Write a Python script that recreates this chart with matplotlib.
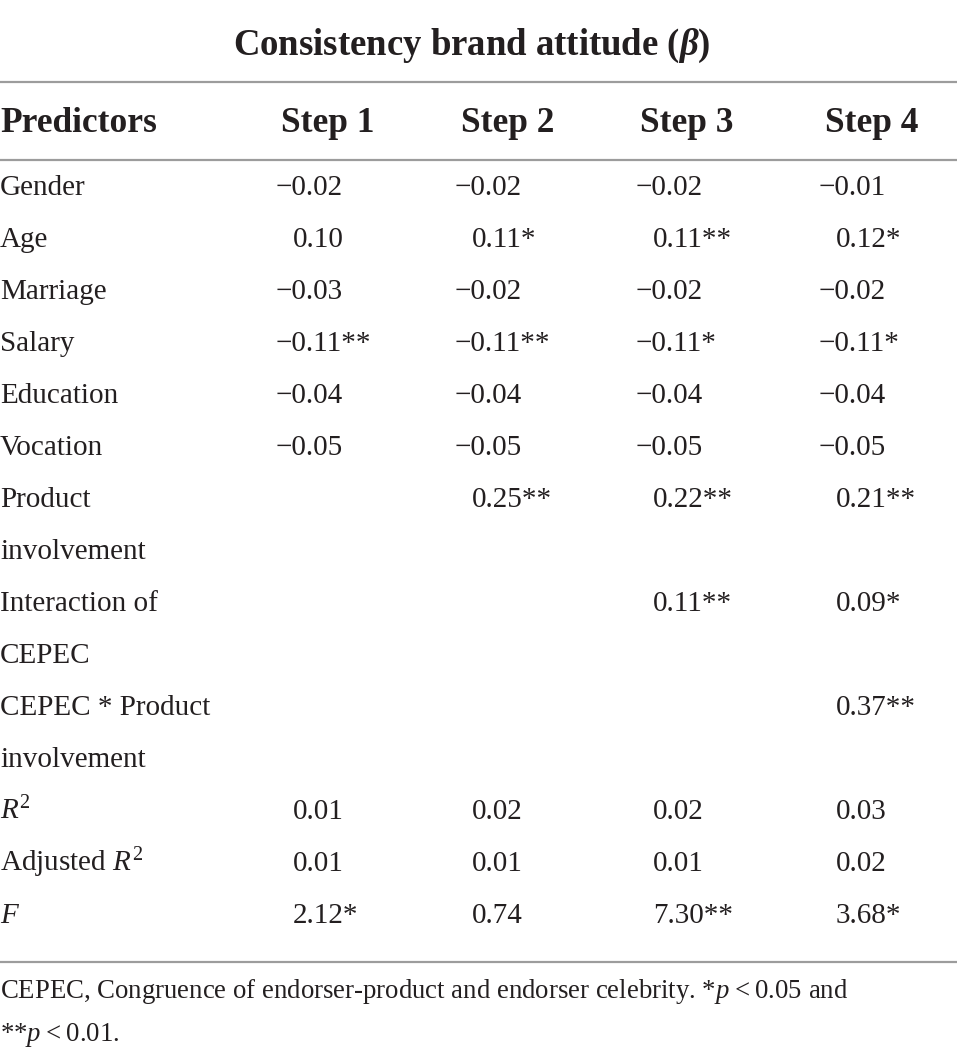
import matplotlib
matplotlib.use("Agg")
import matplotlib.pyplot as plt

plt.rcParams['font.family'] = ['Liberation Serif', 'DejaVu Serif']
plt.rcParams['mathtext.fontset'] = 'custom'
plt.rcParams['mathtext.rm'] = 'Liberation Serif'
plt.rcParams['mathtext.it'] = 'Liberation Serif:italic'
plt.rcParams['mathtext.bf'] = 'Liberation Serif:bold'
plt.rcParams['mathtext.bfit'] = 'Liberation Serif:bold:italic'

title = r"Consistency brand attitude ($\mathbfit{\beta}$)"
headers = ["Predictors", "Step 1", "Step 2", "Step 3", "Step 4"]

# one entry per printed line; two-line labels carry their values on the first line
labels = ["Gender", "Age", "Marriage", "Salary", "Education", "Vocation",
          "Product", "involvement", "Interaction of", "CEPEC",
          "CEPEC * Product", "involvement",
          r"$\mathit{R}^2$", r"Adjusted $\mathit{R}^2$", r"$\mathit{F}$"]
step1 = ["−0.02", "0.10", "−0.03", "−0.11**", "−0.04", "−0.05",
         "", "", "", "", "", "", "0.01", "0.01", "2.12*"]
step2 = ["−0.02", "0.11*", "−0.02", "−0.11**", "−0.04", "−0.05",
         "0.25**", "", "", "", "", "", "0.02", "0.01", "0.74"]
step3 = ["−0.02", "0.11**", "−0.02", "−0.11*", "−0.04", "−0.05",
         "0.22**", "", "0.11**", "", "", "", "0.02", "0.01", "7.30**"]
step4 = ["−0.01", "0.12*", "−0.02", "−0.11*", "−0.04", "−0.05",
         "0.21**", "", "0.09*", "", "0.37**", "", "0.03", "0.02", "3.68*"]
steps = [step1, step2, step3, step4]

note1 = "CEPEC, Congruence of endorser-product and endorser celebrity. *$\\mathit{p}$\u2009<\u20090.05 and"
note2 = "**$\\mathit{p}$\u2009<\u20090.01."

W, H = 957, 1054
fig = plt.figure(figsize=(W / 100, H / 100), dpi=100)
ax = fig.add_axes([0, 0, 1, 1])
ax.set_xlim(0, W)
ax.set_ylim(H, 0)
ax.axis('off')

body = 21
bold = 25.5
rule = '#9c9c9c'
ink = '#231f20'

ax.text(472, 55, title, ha='center', va='baseline', fontsize=26.5, fontweight='bold', color=ink)
for yy in [82, 160, 962]:
    ax.plot([0, W], [yy, yy], color=rule, lw=1.6, solid_capstyle='butt')

head_x = [0, 281, 461, 640, 825]
for x, h in zip(head_x, headers):
    ax.text(x, 132, h, ha='left', va='baseline', fontsize=bold, fontweight='bold', color=ink)

col_x = [276, 455, 636, 819]
for i, lab in enumerate(labels):
    yb = 195 + 52 * i
    ax.text(0, yb, lab, ha='left', va='baseline', fontsize=body, color=ink)
    for x, col in zip(col_x, steps):
        v = col[i]
        if not v:
            continue
        xx = x if v.startswith("−") else x + 17
        ax.text(xx, yb, v, ha='left', va='baseline', fontsize=body, color=ink)

ax.text(0, 998, note1, ha='left', va='baseline', fontsize=19.3, color=ink)
ax.text(0, 1041, note2, ha='left', va='baseline', fontsize=19.3, color=ink)

fig.savefig("out.png", dpi=100)
